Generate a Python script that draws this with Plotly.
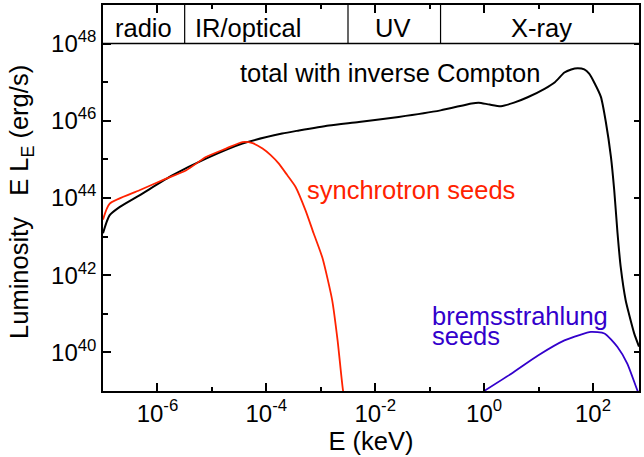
import plotly.graph_objects as go

# ---- data (log10 E [keV], log10 E L_E [erg/s]) ----
total_logE = [-7.0, -6.88, -6.69, -6.33, -5.72, -5.11, -4.44, -3.71, -3.40, -2.85, -2.30,
              -1.57, -0.80, -0.23, -0.10, 0.10, 0.31, 0.55, 0.80, 1.11, 1.30, 1.475, 1.60,
              1.72, 1.84, 1.93, 2.02, 2.145, 2.236, 2.33, 2.39, 2.45, 2.51, 2.60, 2.66,
              2.755, 2.845]
total_logL = [43.09, 43.55, 43.77, 44.07, 44.59, 45.02, 45.41, 45.67, 45.75, 45.88, 45.97,
              46.10, 46.27, 46.45, 46.47, 46.42, 46.38, 46.47, 46.61, 46.83, 47.00, 47.25, 47.33,
              47.36, 47.33, 47.22, 47.00, 46.62, 45.97, 45.06, 44.20, 43.10, 42.20, 41.35, 41.00,
              40.50, 40.15]

sync_logE = [-7.0, -6.88, -6.33, -5.84, -5.47, -5.11, -4.74, -4.44, -4.25, -4.07, -3.92,
             -3.77, -3.62, -3.46, -3.28, -3.13, -2.97, -2.79, -2.69, -2.59, -2.57]
sync_logL = [43.44, 43.85, 44.20, 44.50, 44.72, 45.06, 45.28, 45.45, 45.42, 45.28, 45.11,
             44.89, 44.60, 44.28, 43.68, 43.08, 42.45, 41.35, 40.30, 39.00, 38.90]

brems_logE = [0.0, 0.50, 0.99, 1.475, 1.75, 1.96, 2.21, 2.45, 2.63, 2.82, 2.84]
brems_logL = [39.00, 39.45, 39.92, 40.31, 40.45, 40.53, 40.49, 40.14, 39.71, 39.00, 38.95]

band_edges = [-5.5, -2.5, -0.8]                       # log10 E of band boundaries
band_labels = ["radio", "IR/optical", "UV", "X-ray"]
band_label_pos = [-6.265, -4.33, -1.69, 1.048]        # log10 E of label centres

x_major = [-6, -4, -2, 0, 2]
x_minor = [-5, -3, -1, 1]
y_major = [40, 42, 44, 46, 48]
y_minor = [41, 43, 45, 47]

X_RANGE = [-7.0, 2.845]
Y_RANGE = [39.0, 49.0]

BLACK = "#000000"
RED = "#ff2200"
BLUE = "#3300cc"
FONT = "Liberation Sans, Arial, sans-serif"
TXT = 25.5


def p10(v):
    return 10.0 ** float(v)


def curve(lx, ly, color, width):
    return go.Scatter(x=[p10(v) for v in lx], y=[p10(v) for v in ly], mode="lines",
                      line=dict(color=color, width=width, shape="spline", smoothing=0.6),
                      showlegend=False, hoverinfo="skip")


fig = go.Figure()
fig.add_trace(curve(total_logE, total_logL, BLACK, 2))
fig.add_trace(curve(sync_logE, sync_logL, RED, 1.8))
fig.add_trace(curve(brems_logE, brems_logL, BLUE, 1.8))
# helper trace so the right-hand tick axis is drawn
fig.add_trace(go.Scatter(x=[None], y=[None], yaxis="y2", showlegend=False, hoverinfo="skip"))


def sup(v):
    return "10<sup>%d</sup>" % v


fig.update_layout(
    width=644, height=457,
    margin=dict(l=103, r=3, t=4, b=66),
    paper_bgcolor="white", plot_bgcolor="white",
    font=dict(family=FONT, size=24, color=BLACK),
    xaxis=dict(type="log", range=X_RANGE, showgrid=False, zeroline=False,
               showline=True, linecolor=BLACK, linewidth=1.5, mirror="ticks",
               ticks="inside", ticklen=8, tickwidth=1.5, tickcolor=BLACK,
               tickvals=[p10(v) for v in x_major], ticktext=[sup(v) for v in x_major],
               tickfont=dict(size=24, family=FONT),
               minor=dict(tickvals=[p10(v) for v in x_minor], ticks="inside",
                          ticklen=4, tickwidth=1.5, tickcolor=BLACK),
               title=dict(text="E (keV)", font=dict(size=TXT, family=FONT), standoff=4)),
    yaxis=dict(type="log", range=Y_RANGE, showgrid=False, zeroline=False,
               showline=True, linecolor=BLACK, linewidth=1.5, mirror=True,
               ticks="inside", ticklen=8, tickwidth=1.5, tickcolor=BLACK,
               tickvals=[p10(v) for v in y_major], ticktext=[sup(v) for v in y_major],
               tickfont=dict(size=24, family=FONT),
               minor=dict(tickvals=[p10(v) for v in y_minor], ticks="inside",
                          ticklen=5, tickwidth=1.5, tickcolor=BLACK)),
    yaxis2=dict(type="log", range=Y_RANGE, overlaying="y", side="right", anchor="x",
                showgrid=False, zeroline=False, showline=False, showticklabels=False,
                ticks="inside", ticklen=5, tickwidth=1.5, tickcolor=BLACK,
                tickvals=[p10(v) for v in y_major]),
)

shapes = [dict(type="line", xref="paper", yref="y", x0=0, x1=1,
               y0=p10(48), y1=p10(48), line=dict(color=BLACK, width=1.5))]
for e in band_edges:
    shapes.append(dict(type="line", xref="x", yref="y", x0=p10(e), x1=p10(e),
                       y0=p10(48), y1=p10(Y_RANGE[1]), line=dict(color=BLACK, width=1.2)))
fig.update_layout(shapes=shapes)

ann = []
for lab, pos in zip(band_labels, band_label_pos):
    ann.append(dict(x=pos, y=48.41, xref="x", yref="y", text=lab, showarrow=False,
                    xanchor="center", yanchor="middle", font=dict(size=TXT, color=BLACK)))
ann.append(dict(x=-1.73, y=47.24, xref="x", yref="y", text="total with inverse Compton",
                showarrow=False, xanchor="center", yanchor="middle",
                font=dict(size=TXT, color=BLACK)))
ann.append(dict(x=-3.29, y=44.22, xref="x", yref="y", text="synchrotron seeds",
                showarrow=False, xanchor="left", yanchor="middle",
                font=dict(size=TXT, color=RED)))
ann.append(dict(x=-0.99, y=40.94, xref="x", yref="y", text="bremsstrahlung",
                showarrow=False, xanchor="left", yanchor="middle",
                font=dict(size=TXT, color=BLUE)))
ann.append(dict(x=-0.99, y=40.42, xref="x", yref="y", text="seeds",
                showarrow=False, xanchor="left", yanchor="middle",
                font=dict(size=TXT, color=BLUE)))
ann.append(dict(x=(20.8 - 103) / 538.0, y=0.49, xref="paper", yref="paper",
                text="Luminosity   E L<sub>E</sub> (erg/s)", showarrow=False,
                textangle=-90, xanchor="center", yanchor="middle",
                font=dict(size=TXT, color=BLACK)))
fig.update_layout(annotations=ann)

fig.write_html("out.html", config={"displayModeBar": False},
               post_script="document.body.style.margin='0';")
